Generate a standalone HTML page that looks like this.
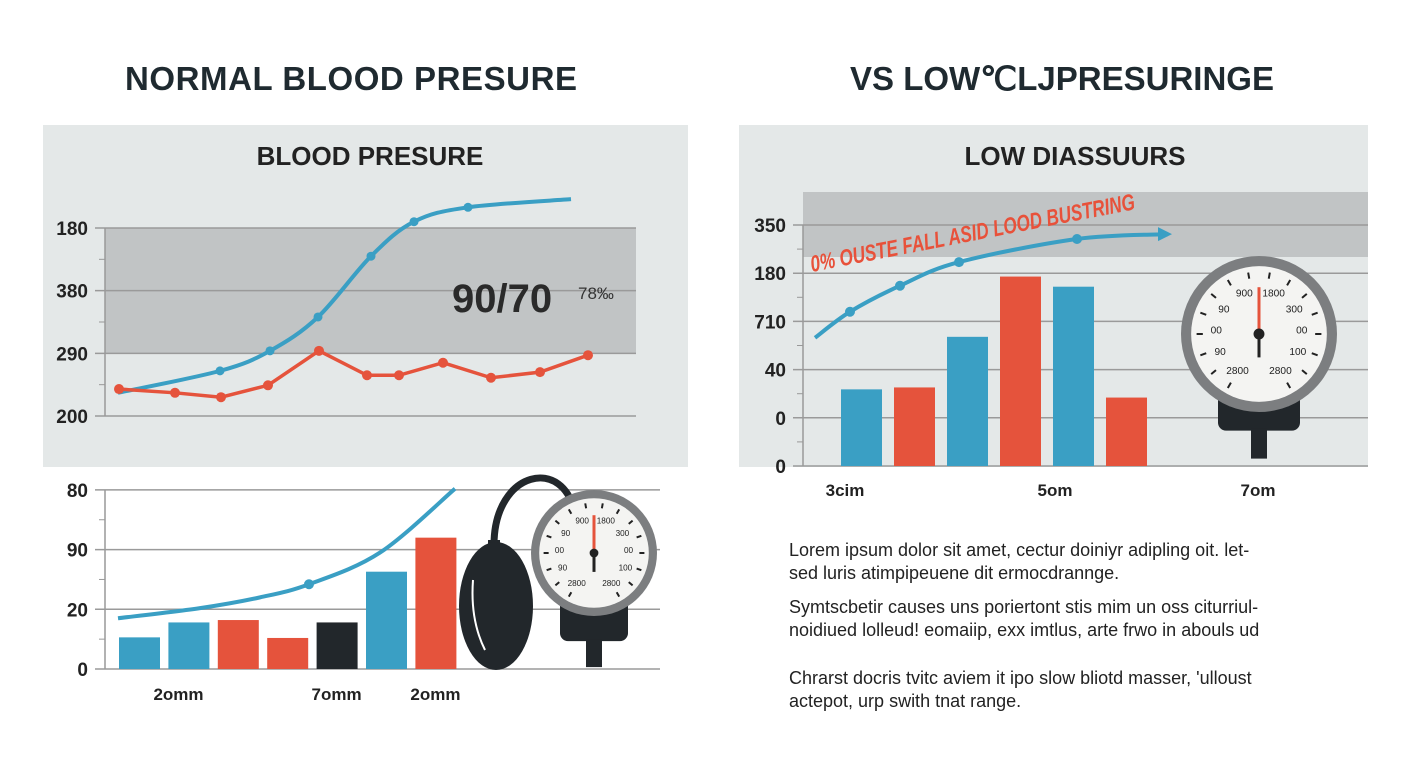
<!DOCTYPE html>
<html><head><meta charset="utf-8">
<style>
html,body{margin:0;padding:0;background:#fff;}
body{width:1408px;height:768px;overflow:hidden;position:relative;font-family:"Liberation Sans",sans-serif;}
svg{position:absolute;left:0;top:0;}
.p{position:absolute;left:789px;font-size:18px;color:#222;line-height:23px;margin:0;}
</style></head><body>
<svg id="s" width="1408" height="768">
<text x="351" y="90" text-anchor="middle" font-size="33" font-weight="bold" fill="#1f2a30" textLength="452">NORMAL BLOOD PRESURE</text>
<text x="1062" y="90" text-anchor="middle" font-size="33" font-weight="bold" fill="#1f2a30">VS LOW℃LJPRESURINGE</text>
<rect x="43" y="125" width="645" height="342" fill="#e4e8e8"/>
<text x="370" y="165" text-anchor="middle" font-size="26" font-weight="bold" fill="#222">BLOOD PRESURE</text>
<rect x="105" y="228" width="531" height="125" fill="#c1c4c5"/>
<rect x="739" y="125" width="629" height="342" fill="#e4e8e8"/>
<text x="1075" y="165" text-anchor="middle" font-size="26" font-weight="bold" fill="#222">LOW DIASSUURS</text>
<rect x="803" y="192" width="565" height="65" fill="#c1c4c5"/>
<g id="g1"></g><g id="g2"></g><g id="g3"></g>
<text x="452" y="312" font-size="40" font-weight="bold" fill="#2a2a2a">90/70</text>
<text x="578" y="299" font-size="17" fill="#333">78‰</text>
<text transform="translate(812,272) rotate(-11)" font-size="23" font-weight="bold" font-style="italic" fill="#e8513a" textLength="330" lengthAdjust="spacingAndGlyphs">0% OUSTE FALL ASID LOOD BUSTRING</text>
<g>
<path d="M494 545 C494 470 565 455 575 515" stroke="#22272b" stroke-width="7" fill="none"/>
<rect x="488" y="540" width="12" height="12" fill="#22272b"/>
<ellipse cx="496" cy="606" rx="37" ry="64" fill="#22272b"/>
<path d="M473 580 Q470 620 485 650" stroke="#fff" stroke-width="2" fill="none"/>
</g>
<g id="gauge1"></g>
<g id="gauge2"></g>
</svg>
<p class="p" style="top:539px">Lorem ipsum dolor sit amet, cectur doiniyr adipling oit. let-<br>sed luris atimpipeuene dit ermocdrannge.</p>
<p class="p" style="top:596px">Symtscbetir causes uns poriertont stis mim un oss citurriul-<br>noidiued lolleud! eomaiip, exx imtlus, arte frwo in abouls ud</p>
<p class="p" style="top:667px">Chrarst docris tvitc aviem it ipo slow bliotd masser, 'ullo​ust<br>actepot, urp swith tnat range.</p>
<script>
// Chart 1 data
const c1Ticks=["200","290","380","180"];
const c1BlueX=[118,220,270,318,371,414,468,571];
const c1BlueV=[0.37,0.72,1.04,1.58,2.55,3.10,3.33,3.46];
const c1BlueDots=[1,2,3,4,5,6];
const c1RedX=[119,175,221,268,319,367,399,443,491,540,588];
const c1RedV=[0.43,0.37,0.30,0.49,1.04,0.65,0.65,0.85,0.61,0.70,0.97];
// Chart 2 data
const c2Ticks=["0","20","90","80"];
const c2Bars=[0.53,0.78,0.82,0.52,0.78,1.63,2.2];
const c2Colors=["#3a9fc4","#3a9fc4","#e5533c","#e5533c","#22272b","#3a9fc4","#e5533c"];
const c2Labels=["2omm","7omm","2omm"];
const c2LabelIdx=[0.8,4,6];
const c2LineX=[118,200,260,309,380,455];
const c2LineV=[0.85,1.02,1.2,1.42,1.95,3.02];
// Chart 3 data
const c3Ticks=["0","0","40","710","180","350"];
const c3TickV=[0,1,2,3,4,5];
const c3Bars=[1.59,1.63,2.68,3.93,3.72,1.42];
const c3Colors=["#3a9fc4","#e5533c","#3a9fc4","#e5533c","#3a9fc4","#e5533c"];
const c3Labels=["3cim","5om","7om"];
const c3LabelX=[845,1055,1258];
const c3LineX=[815,850,900,959,1077,1168];
const c3LineV=[2.66,3.2,3.74,4.23,4.71,4.81];

const NS="http://www.w3.org/2000/svg";
function mk(p,t,a){const e=document.createElementNS(NS,t);for(const k in a)e.setAttribute(k,a[k]);p.appendChild(e);return e;}
function smooth(pts){let d="M"+pts[0][0]+" "+pts[0][1];for(let i=0;i<pts.length-1;i++){const p0=pts[i-1]||pts[i],p1=pts[i],p2=pts[i+1],p3=pts[i+2]||p2;d+=" C"+(p1[0]+(p2[0]-p0[0])/6)+" "+(p1[1]+(p2[1]-p0[1])/6)+" "+(p2[0]-(p3[0]-p1[0])/6)+" "+(p2[1]-(p3[1]-p1[1])/6)+" "+p2[0]+" "+p2[1];}return d;}
function grid(g,x0,x1,yf,vals,labels,minor){
  mk(g,"line",{x1:x0,y1:yf(vals[vals.length-1]),x2:x0,y2:yf(vals[0]),stroke:"#999","stroke-width":1.5});
  vals.forEach((v,i)=>{const y=yf(v);
    const l=mk(g,"line",{x1:x0-10,y1:y,x2:x1,y2:y,stroke:"#9a9a9a","stroke-width":1.5});
    
    
    const t=mk(g,"text",{x:x0-17,y:y+7,"text-anchor":"end","font-size":19,"font-weight":"bold",fill:"#222"});t.textContent=labels[i];
    
    
    if(minor&&i<vals.length-1){mk(g,"line",{x1:x0-6,y1:(y+yf(vals[i+1]))/2,x2:x0,y2:(y+yf(vals[i+1]))/2,stroke:"#999"});}
  });
}
// chart 1
const g1=document.getElementById("g1");
const y1=v=>416-v*62.67;
grid(g1,105,636,y1,[0,1,2,3],c1Ticks,true);
let bp=mk(g1,"path",{d:smooth(c1BlueX.map((x,i)=>[x,y1(c1BlueV[i])])),stroke:"#3a9fc4","stroke-width":4,fill:"none"});


c1BlueDots.forEach(i=>{const c=mk(g1,"circle",{cx:c1BlueX[i],cy:y1(c1BlueV[i]),r:4.5,fill:"#3a9fc4"});

});
let rp=mk(g1,"polyline",{points:c1RedX.map((x,i)=>x+","+y1(c1RedV[i])).join(" "),stroke:"#e5533c","stroke-width":3.5,fill:"none"});


c1RedX.forEach((x,i)=>{const c=mk(g1,"circle",{cx:x,cy:y1(c1RedV[i]),r:5,fill:"#e5533c"});

});
// chart 2
const g2=document.getElementById("g2");
const y2=v=>669-v*59.7;
grid(g2,105,660,y2,[0,1,2,3],c2Ticks,true);
const bx2=i=>119+i*49.4;
c2Bars.forEach((v,i)=>{const r=mk(g2,"rect",{x:bx2(i),y:y2(v),width:41,height:669-y2(v),fill:c2Colors[i]});

});
c2Labels.forEach((s,i)=>{const t=mk(g2,"text",{x:bx2(c2LabelIdx[i])+20,y:700,"text-anchor":"middle","font-size":17,"font-weight":"bold",fill:"#222"});t.textContent=s;

});
let lp2=mk(g2,"path",{d:smooth(c2LineX.map((x,i)=>[x,y2(c2LineV[i])])),stroke:"#3a9fc4","stroke-width":4,fill:"none"});


mk(g2,"circle",{cx:c2LineX[3],cy:y2(c2LineV[3]),r:5,fill:"#3a9fc4"});
// chart 3
const g3=document.getElementById("g3");
const y3=v=>466-v*48.2;
grid(g3,803,1368,y3,c3TickV,c3Ticks,true);
const bx3=i=>841+i*53;
c3Bars.forEach((v,i)=>{const r=mk(g3,"rect",{x:bx3(i),y:y3(v),width:41,height:466-y3(v),fill:c3Colors[i]});

});
c3Labels.forEach((s,i)=>{const t=mk(g3,"text",{x:c3LabelX[i],y:496,"text-anchor":"middle","font-size":17,"font-weight":"bold",fill:"#222"});t.textContent=s;

});
const p3=c3LineX.map((x,i)=>[x,y3(c3LineV[i])]);
let lp3=mk(g3,"path",{d:smooth(p3),stroke:"#3a9fc4","stroke-width":4,fill:"none"});


const L=p3[p3.length-1];
mk(g3,"polygon",{points:(L[0]+4)+","+L[1]+" "+(L[0]-10)+","+(L[1]-7)+" "+(L[0]-10)+","+(L[1]+7),fill:"#3a9fc4"});
[1,2,3,4].forEach(i=>mk(g3,"circle",{cx:p3[i][0],cy:p3[i][1],r:5,fill:"#3a9fc4"}));
// gauges
function gauge(g,cx,cy,R,base){
  mk(g,"rect",{x:cx-base[0]/2,y:cy+R*0.7,width:base[0],height:base[1],rx:8,fill:"#22272b"});
  mk(g,"rect",{x:cx-8,y:cy+R*0.7+base[1]-2,width:16,height:base[2],fill:"#22272b"});
  mk(g,"circle",{cx,cy,r:R,fill:"#7c7e80"});
  mk(g,"circle",{cx,cy,r:R*0.87,fill:"#f4f4f2"});
  for(let a=-150;a<=150;a+=20){const r=a*Math.PI/180,s=Math.sin(r),c=-Math.cos(r);
    mk(g,"line",{x1:cx+s*R*0.72,y1:cy+c*R*0.72,x2:cx+s*R*0.8,y2:cy+c*R*0.8,stroke:"#222","stroke-width":2});}
  const lbl=["900","1800","300","00","100","2800","2800","90","00","90"];
  const ang=[-20,20,55,85,115,150,-150,-115,-85,-55];
  ang.forEach((a,i)=>{const r=a*Math.PI/180;const t=mk(g,"text",{x:cx+Math.sin(r)*R*0.55,y:cy-Math.cos(r)*R*0.55+3,"text-anchor":"middle","font-size":R*0.13,fill:"#222"});t.textContent=lbl[i];});
  mk(g,"line",{x1:cx,y1:cy,x2:cx,y2:cy-R*0.6,stroke:"#e5533c","stroke-width":3});
  mk(g,"line",{x1:cx,y1:cy,x2:cx,y2:cy+R*0.3,stroke:"#222","stroke-width":3});
  mk(g,"circle",{cx,cy,r:R*0.07,fill:"#222"});
}
gauge(document.getElementById("gauge1"),594,553,63,[68,44,28]);
gauge(document.getElementById("gauge2"),1259,334,78,[82,42,30]);
</script>
</body></html>
